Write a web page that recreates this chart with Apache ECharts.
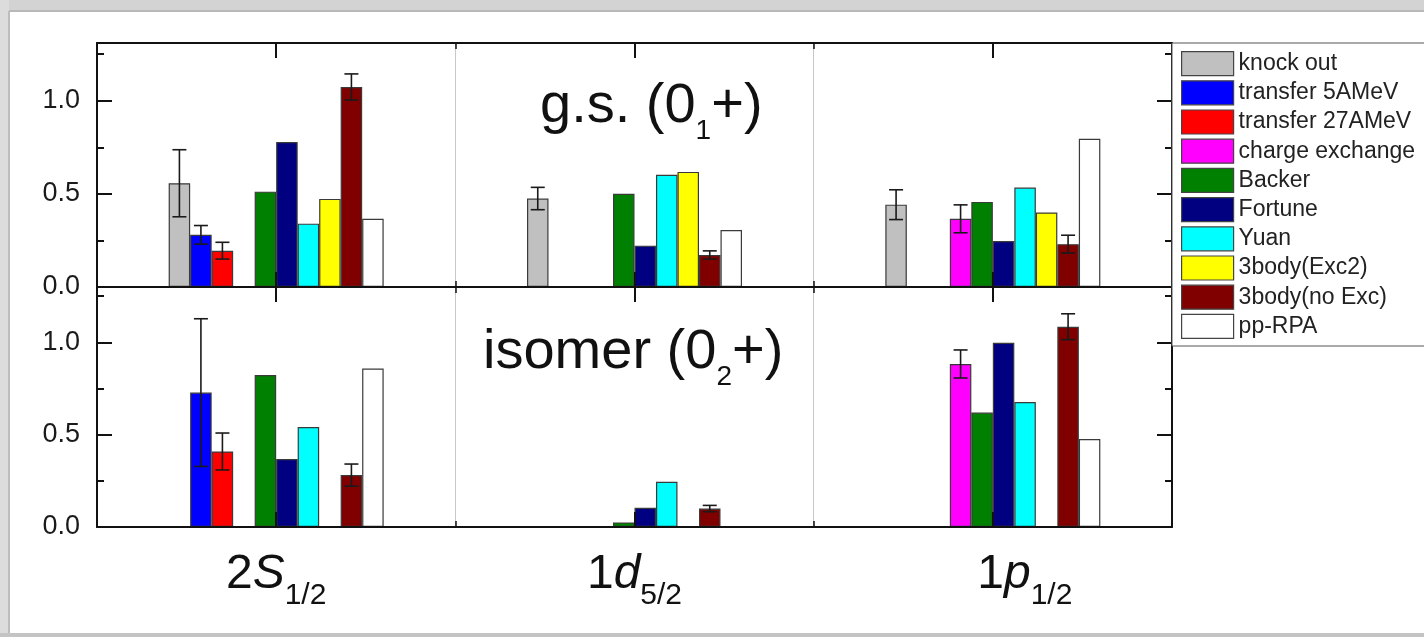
<!DOCTYPE html>
<html><head><meta charset="utf-8">
<script src="https://cdn.jsdelivr.net/npm/echarts@6/dist/echarts.min.js"></script>
<style>html,body{margin:0;padding:0;background:#fff}#c{width:1424px;height:637px}</style>
</head><body><div id="c"></div>
<script>
// ---------- data ----------
const categories = ['2S1/2', '1d5/2', '1p1/2'];
const seriesNames = ['knock out', 'transfer 5AMeV', 'transfer 27AMeV', 'charge exchange', 'Backer',
  'Fortune', 'Yuan', '3body(Exc2)', '3body(no Exc)', 'pp-RPA'];
const seriesColors = ['#c0c0c0', '#0000ff', '#ff0000', '#ff00ff', '#008000',
  '#000080', '#00ffff', '#ffff00', '#800000', '#ffffff'];
const yTickLabels = ['0.0', '0.5', '1.0'];

// ground state (0_1+)
const gsKnockOut    = [0.557, 0.475, 0.442];
const gsTransfer5   = [0.280, null, null];
const gsTransfer27  = [0.195, null, null];
const gsCharge      = [null, null, 0.366];
const gsBacker      = [0.512, 0.500, 0.457];
const gsFortune     = [0.778, 0.222, 0.247];
const gsYuan        = [0.340, 0.602, 0.534];
const gsExc2        = [0.473, 0.618, 0.400];
const gsNoExc       = [1.074, 0.172, 0.230];
const gsRPA         = [0.366, 0.306, 0.796];
const gsKnockOutErr   = [0.180, 0.060, 0.080];
const gsTransfer5Err  = [0.050, null, null];
const gsTransfer27Err = [0.045, null, null];
const gsChargeErr     = [null, null, 0.075];
const gsNoExcErr      = [0.070, 0.022, 0.048];

// isomer (0_2+)
const isoKnockOut   = [null, null, null];
const isoTransfer5  = [0.728, null, null];
const isoTransfer27 = [0.409, null, null];
const isoCharge     = [null, null, 0.883];
const isoBacker     = [0.823, 0.025, 0.620];
const isoFortune    = [0.368, 0.104, 0.998];
const isoYuan       = [0.542, 0.245, 0.677];
const isoExc2       = [null, null, null];
const isoNoExc      = [0.281, 0.100, 1.085];
const isoRPA        = [0.858, null, 0.476];
const isoTransfer5Err  = [0.400, null, null];
const isoTransfer27Err = [0.100, null, null];
const isoChargeErr     = [null, null, 0.076];
const isoNoExcErr      = [0.060, 0.017, 0.070];

// ---------- build ----------
const FONT = "'Liberation Sans', Arial, sans-serif";
const INK = '#111';
const panels = [
  { max: 1.31,
    values: [gsKnockOut, gsTransfer5, gsTransfer27, gsCharge, gsBacker, gsFortune, gsYuan, gsExc2, gsNoExc, gsRPA],
    errors: [[0, gsKnockOut, gsKnockOutErr], [1, gsTransfer5, gsTransfer5Err], [2, gsTransfer27, gsTransfer27Err],
             [3, gsCharge, gsChargeErr], [8, gsNoExc, gsNoExcErr]] },
  { max: 1.30,
    values: [isoKnockOut, isoTransfer5, isoTransfer27, isoCharge, isoBacker, isoFortune, isoYuan, isoExc2, isoNoExc, isoRPA],
    errors: [[1, isoTransfer5, isoTransfer5Err], [2, isoTransfer27, isoTransfer27Err],
             [3, isoCharge, isoChargeErr], [8, isoNoExc, isoNoExcErr]] }
];

const grid = [
  { left: 97, top: 43, width: 1075, height: 244 },
  { left: 97, top: 287, width: 1075, height: 240 }
];

const xAxis = [], yAxis = [], series = [];
panels.forEach((p, g) => {
  const base = { gridIndex: g, type: 'category', data: categories, axisLabel: { show: false }, splitLine: { show: false } };
  xAxis.push(Object.assign({}, base, { position: 'top', z: 3,
    axisLine: { show: true, onZero: false, lineStyle: { color: INK, width: 2 } },
    axisTick: { show: true, inside: true, length: 6, lineStyle: { color: INK, width: 1.5 } },
    splitLine: { show: true, lineStyle: { color: '#c8c8c8', width: 1 } } }));
  xAxis.push(Object.assign({}, base, { position: 'top', z: 3, axisLine: { show: false, onZero: false },
    axisTick: { show: true, inside: true, alignWithLabel: true, length: 15, lineStyle: { color: INK, width: 2 } } }));
  const bottomAxis = Object.assign({}, base, { position: 'bottom', z: 3,
    axisLine: { show: true, onZero: false, lineStyle: { color: INK, width: 2 } },
    axisTick: { show: true, inside: true, length: 6, lineStyle: { color: INK, width: 1.5 } } });
  if (g === 1) {
    bottomAxis.axisLabel = {
      show: true, margin: 24, interval: 0,
      formatter: (val, idx) => {
        const n = idx === 2 ? 'n3' : 'n';
        return '{' + n + '|' + val[0] + '}{i|' + val[1] + '}{s|' + val.slice(2) + '}';
      },
      rich: {
        n: { fontSize: 48, lineHeight: 60, verticalAlign: 'top', fontFamily: FONT, color: INK },
        n3: { fontSize: 48, lineHeight: 60, verticalAlign: 'top', fontFamily: FONT, color: INK, padding: [0, 0, 0, 64] },
        i: { fontSize: 48, lineHeight: 60, verticalAlign: 'top', fontFamily: FONT, color: INK, fontStyle: 'italic' },
        s: { fontSize: 30, lineHeight: 60, verticalAlign: 'bottom', fontFamily: FONT, color: INK }
      }
    };
  }
  xAxis.push(bottomAxis);
  xAxis.push(Object.assign({}, base, { position: 'bottom', z: 3, axisLine: { show: false, onZero: false },
    axisTick: { show: true, inside: true, alignWithLabel: true, length: 15, lineStyle: { color: INK, width: 2 } } }));

  const yBase = { gridIndex: g, type: 'value', min: 0, max: p.max, splitLine: { show: false }, z: 3 };
  yAxis.push(Object.assign({}, yBase, { position: 'left', interval: 0.25,
    axisLine: { show: true, onZero: false, lineStyle: { color: INK, width: 2 } },
    axisTick: { show: true, inside: true, length: 7, lineStyle: { color: INK, width: 2 } },
    axisLabel: { show: true, margin: 17, fontSize: 27, color: '#1a1a1a', fontFamily: FONT, showMaxLabel: false,
      formatter: v => { const k = Math.round(v * 2); return (Math.abs(v * 2 - k) < 1e-6 && k <= 2) ? yTickLabels[k] : ''; } } }));
  yAxis.push(Object.assign({}, yBase, { position: 'left', interval: 0.5, axisLine: { show: false, onZero: false },
    axisTick: { show: true, inside: true, length: 15, lineStyle: { color: INK, width: 2 } }, axisLabel: { show: false } }));
  yAxis.push(Object.assign({}, yBase, { position: 'right', interval: 0.25,
    axisLine: { show: true, onZero: false, lineStyle: { color: INK, width: 2 } },
    axisTick: { show: true, inside: true, length: 7, lineStyle: { color: INK, width: 2 } }, axisLabel: { show: false } }));
  yAxis.push(Object.assign({}, yBase, { position: 'right', interval: 0.5, axisLine: { show: false, onZero: false },
    axisTick: { show: true, inside: true, length: 15, lineStyle: { color: INK, width: 2 } }, axisLabel: { show: false } }));

  const xi = g * 4 + 2, yi = g * 4;
  p.values.forEach((arr, k) => {
    series.push({
      type: 'bar', name: seriesNames[k], xAxisIndex: xi, yAxisIndex: yi,
      data: arr.map(v => v === null ? '-' : v),
      barGap: '0%', barCategoryGap: '40%',
      itemStyle: { color: seriesColors[k], borderColor: '#3a3a3a', borderWidth: 1.2 },
      emphasis: { disabled: true }, animation: false
    });
  });
  const errData = [];
  p.errors.forEach(([k, vals, errs]) => {
    vals.forEach((v, c) => { if (v !== null && errs[c] !== null) errData.push([c, v, errs[c], k]); });
  });
  series.push({
    type: 'custom', xAxisIndex: xi, yAxisIndex: yi, z: 5, animation: false, silent: true,
    data: errData,
    renderItem: (params, api) => {
      const c = api.value(0), v = api.value(1), e = api.value(2), k = api.value(3);
      const band = api.size([1, 0])[0];
      const slot = band * 0.6 / 10;
      const x = api.coord([c, v])[0] + (k - 4.5) * slot;
      const yT = api.coord([c, v + e])[1], yB = api.coord([c, v - e])[1];
      const cap = 7;
      const st = { stroke: '#1a1a1a', lineWidth: 1.6 };
      return { type: 'group', children: [
        { type: 'line', shape: { x1: x, y1: yT, x2: x, y2: yB }, style: st },
        { type: 'line', shape: { x1: x - cap, y1: yT, x2: x + cap, y2: yT }, style: st },
        { type: 'line', shape: { x1: x - cap, y1: yB, x2: x + cap, y2: yB }, style: st }
      ] };
    }
  });
});

const titleRich = {
  a: { fontSize: 56, lineHeight: 66, verticalAlign: 'top', fontFamily: FONT, fontWeight: 'normal', color: INK },
  s: { fontSize: 28, lineHeight: 66, verticalAlign: 'bottom', fontFamily: FONT, fontWeight: 'normal', color: INK }
};

const option = {
  backgroundColor: '#ffffff',
  animation: false,
  grid: grid,
  xAxis: xAxis,
  yAxis: yAxis,
  series: series,
  title: [
    { text: '{a|g.s. (0}{s|1}{a|+)}', left: 540, top: 79, padding: 0,
      textStyle: { fontSize: 56, fontWeight: 'normal', rich: titleRich } },
    { text: '{a|isomer (0}{s|2}{a|+)}', left: 483, top: 325, padding: 0,
      textStyle: { fontSize: 56, fontWeight: 'normal', rich: titleRich } }
  ],
  legend: {
    data: seriesNames, orient: 'vertical', left: 1172, top: 43,
    itemWidth: 52, itemHeight: 24, itemGap: 4, padding: [8, 40, 7, 9],
    borderColor: '#555', borderWidth: 1, backgroundColor: '#fff',
    icon: 'rect', selectedMode: false,
    itemStyle: { borderColor: '#444', borderWidth: 1.2 },
    textStyle: { fontSize: 23, lineHeight: 22, color: '#222', fontFamily: FONT }
  },
  graphic: [
    { type: 'rect', silent: true, shape: { x: 0, y: 0, width: 1424, height: 11 }, style: { fill: '#d3d3d3' } },
    { type: 'rect', silent: true, shape: { x: 0, y: 10, width: 1424, height: 2 }, style: { fill: '#b8b8b8' } },
    { type: 'rect', silent: true, shape: { x: 0, y: 0, width: 9, height: 637 }, style: { fill: '#dcdcdc' } },
    { type: 'rect', silent: true, shape: { x: 8, y: 11, width: 2, height: 626 }, style: { fill: '#bcbcbc' } },
    { type: 'rect', silent: true, shape: { x: 0, y: 633, width: 1424, height: 4 }, style: { fill: '#c4c4c4' } }
  ]
};

const chart = echarts.init(document.getElementById('c'), null, { renderer: 'canvas' });
chart.setOption(option);
</script>
</body></html>
